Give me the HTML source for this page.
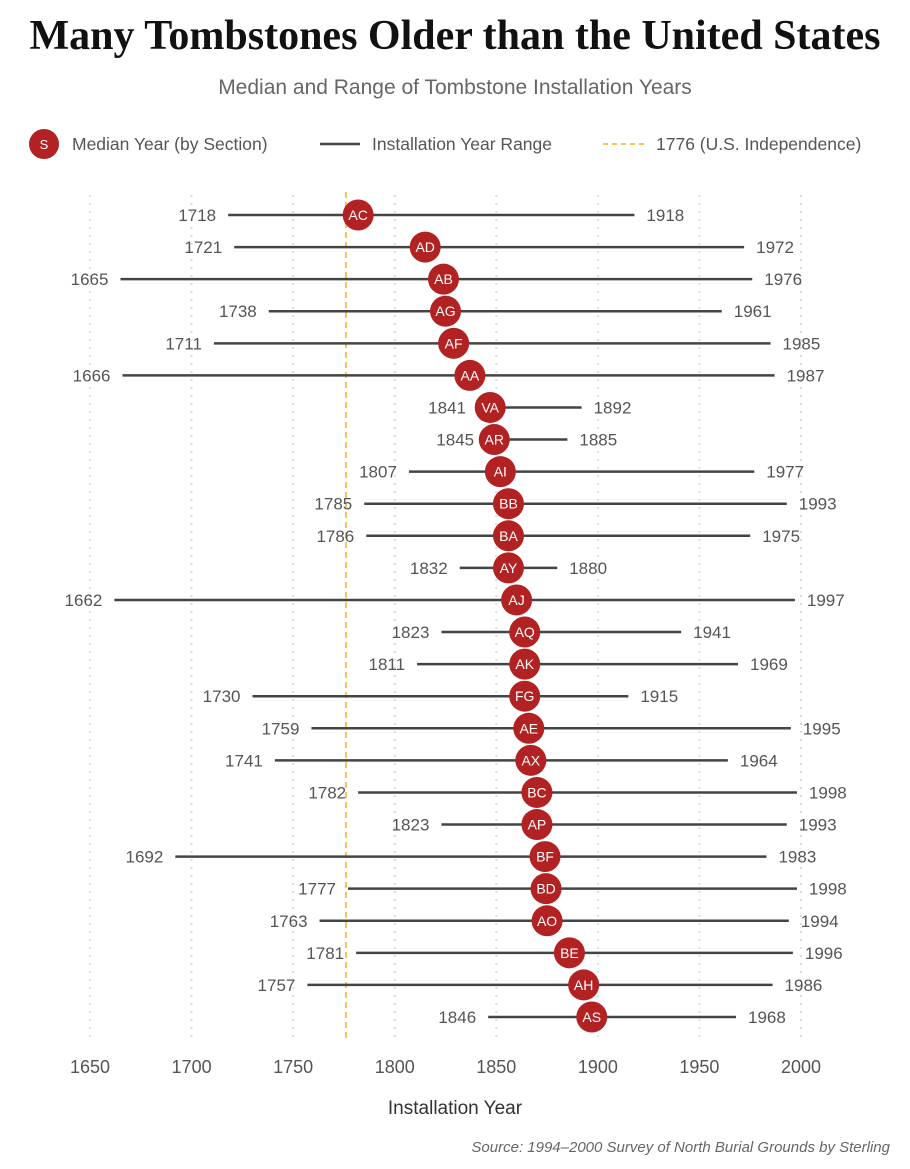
<!DOCTYPE html>
<html><head><meta charset="utf-8"><style>
body{margin:0;background:#fff;width:910px;height:1164px;overflow:hidden;font-family:"Liberation Sans",sans-serif}
</style></head><body>
<svg width="910" height="1164" id="c">
<text x="455" y="49" text-anchor="middle" font-family="Liberation Serif,serif" font-weight="bold" font-size="42" fill="#111">Many Tombstones Older than the United States</text>
<text x="455" y="94" text-anchor="middle" font-size="21" fill="#666">Median and Range of Tombstone Installation Years</text>
<g font-size="18" fill="#555">
<g><circle cx="44" cy="144" r="15" fill="#b22222"/><text x="44" y="149" text-anchor="middle" fill="#fff" font-size="13">S</text><text x="72" y="150" font-size="17.5">Median Year (by Section)</text></g>
<g><line x1="320" x2="360" y1="144" y2="144" stroke="#444" stroke-width="2.5"/><text x="372" y="150" font-size="17.5">Installation Year Range</text></g>
<g><line x1="603" x2="645" y1="144" y2="144" stroke="#f5c35a" stroke-width="2" stroke-dasharray="5,4"/><text x="656" y="150" font-size="17.5">1776 (U.S. Independence)</text></g>
</g>
<g id="grid"></g><g id="marks"></g>
<text x="455" y="1114" text-anchor="middle" font-size="19" fill="#333">Installation Year</text>
<text x="890" y="1152" text-anchor="end" font-size="15" font-style="italic" fill="#666">Source: 1994–2000 Survey of North Burial Grounds by Sterling</text>
</svg>
<script>
const sections=["AC","AD","AB","AG","AF","AA","VA","AR","AI","BB","BA","AY","AJ","AQ","AK","FG","AE","AX","BC","AP","BF","BD","AO","BE","AH","AS"];
const minYears=[1718,1721,1665,1738,1711,1666,1841,1845,1807,1785,1786,1832,1662,1823,1811,1730,1759,1741,1782,1823,1692,1777,1763,1781,1757,1846];
const maxYears=[1918,1972,1976,1961,1985,1987,1892,1885,1977,1993,1975,1880,1997,1941,1969,1915,1995,1964,1998,1993,1983,1998,1994,1996,1986,1968];
const medians=[1782,1815,1824,1825,1829,1837,1847,1849,1852,1856,1856,1856,1860,1864,1864,1864,1866,1867,1870,1870,1874,1874.5,1875,1886,1893,1897];
const ticks=[1650,1700,1750,1800,1850,1900,1950,2000];
const ns="http://www.w3.org/2000/svg";
const x=v=>90+(v-1650)*(711/350);
const y=i=>215+i*32.08;
function mk(t,a,p){const e=document.createElementNS(ns,t);for(const k in a)e.setAttribute(k,a[k]);p.appendChild(e);return e;}
const g=document.getElementById('grid'),m=document.getElementById('marks');
ticks.forEach(t=>{
 const l=mk('line',{x1:x(t),x2:x(t),y1:195,y2:1040,stroke:'#ddd','stroke-width':2,'stroke-dasharray':'2,6'},g);
 
 
 const tx=mk('text',{x:x(t),y:1073,'text-anchor':'middle','font-size':18,fill:'#555'},g);tx.textContent=t;
 
 
});
const d=mk('line',{x1:x(1776),x2:x(1776),y1:192,y2:1040,stroke:'#f5c35a','stroke-width':2,'stroke-dasharray':'6,4'},g);


sections.forEach((s,i)=>{
 const gr=mk('g',{},m);
 
 
 mk('line',{x1:x(minYears[i]),x2:x(maxYears[i]),y1:y(i),y2:y(i),stroke:'#444','stroke-width':2.5},gr);
 const a=mk('text',{x:x(minYears[i])-12,y:y(i)+6,'text-anchor':'end','font-size':17,fill:'#555'},gr);a.textContent=minYears[i];
 const b=mk('text',{x:x(maxYears[i])+12,y:y(i)+6,'font-size':17,fill:'#555'},gr);b.textContent=maxYears[i];
 const c=mk('circle',{cx:x(medians[i]),cy:y(i),r:15.5,fill:'#b22222'},gr);
 
 
 const l=mk('text',{x:x(medians[i]),y:y(i)+5,'text-anchor':'middle','font-size':14,fill:'#fff'},gr);l.textContent=s;
});
</script>
</body></html>
